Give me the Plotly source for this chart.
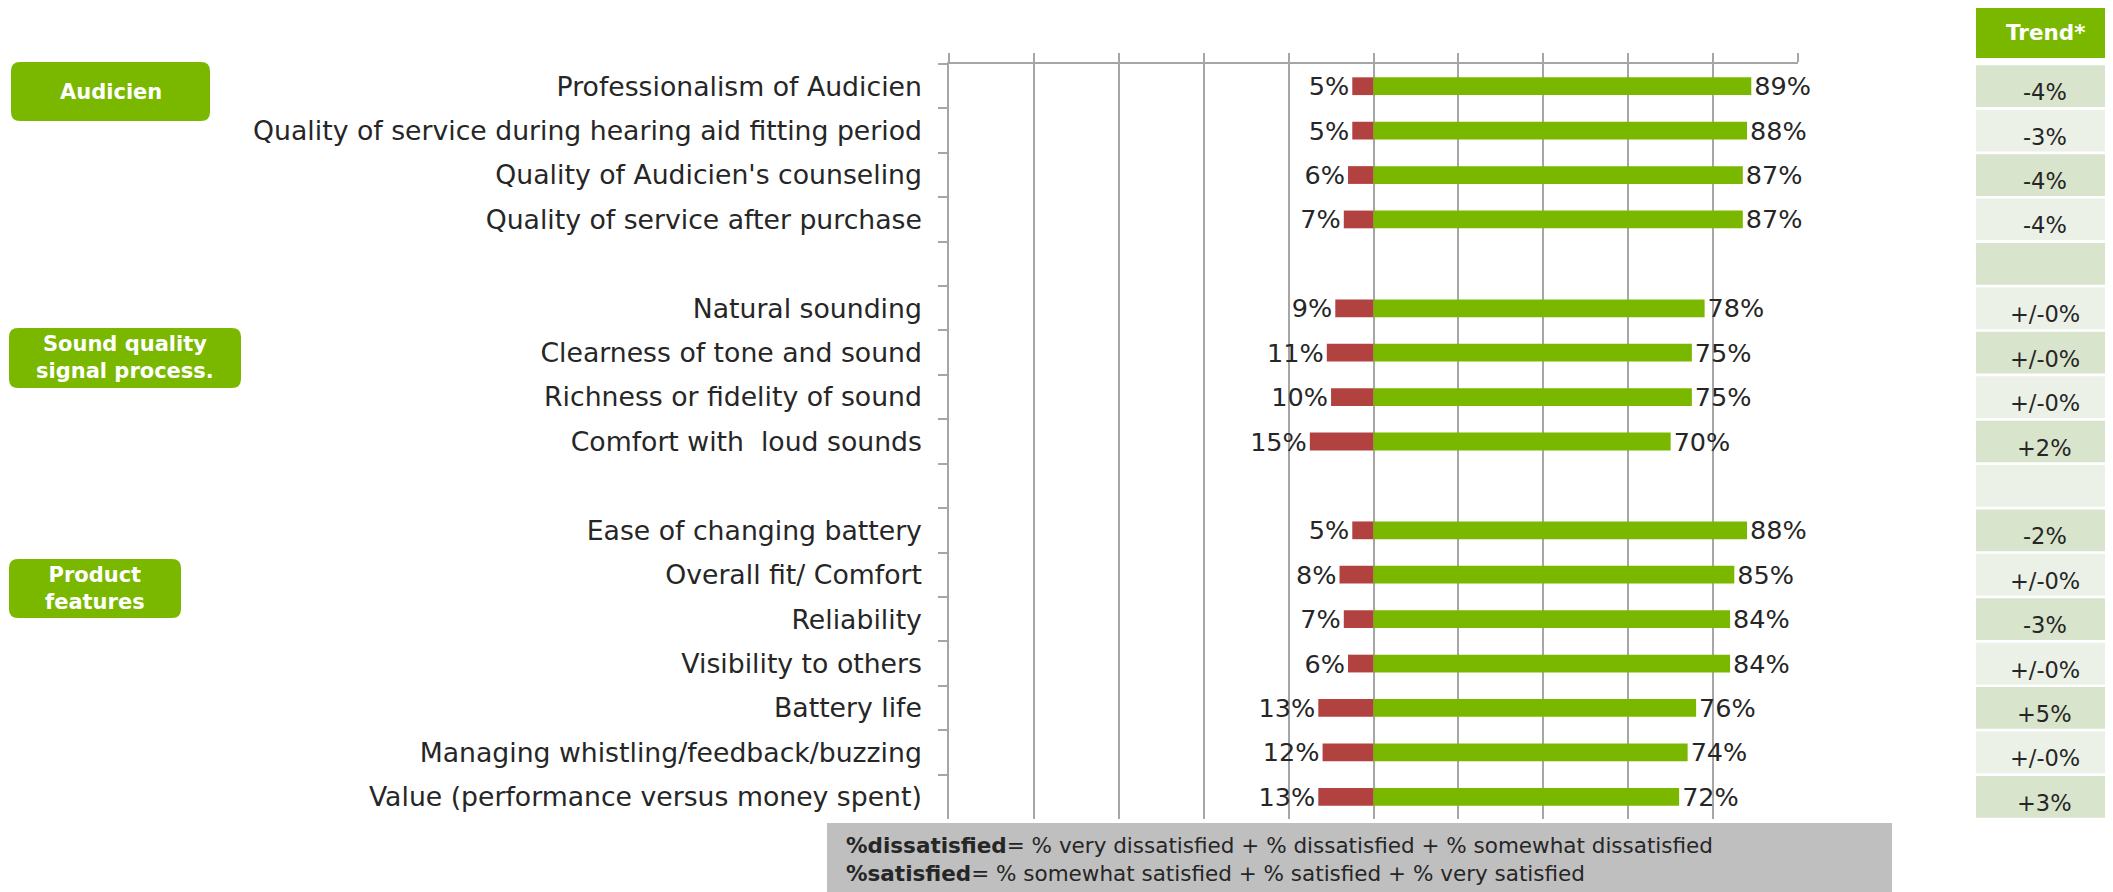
import plotly.graph_objects as go

# page body has an 8px margin, so the figure is shrunk by that and pixel positions shifted
OFF = 8
W, H = 2113 - OFF, 892 - OFF

categories = ["Professionalism of Audicien",
              "Quality of service during hearing aid fitting period",
              "Quality of Audicien's counseling",
              "Quality of service after purchase",
              " ",
              "Natural sounding",
              "Clearness of tone and sound",
              "Richness or fidelity of sound",
              "Comfort with  loud sounds",
              "  ",
              "Ease of changing battery",
              "Overall fit/ Comfort",
              "Reliability",
              "Visibility to others",
              "Battery life",
              "Managing whistling/feedback/buzzing",
              "Value (performance versus money spent)"]
dissatisfied = [5, 5, 6, 7, None, 9, 11, 10, 15, None, 5, 8, 7, 6, 13, 12, 13]
satisfied = [89, 88, 87, 87, None, 78, 75, 75, 70, None, 88, 85, 84, 84, 76, 74, 72]
trend = ["-4%", "-3%", "-4%", "-4%", "", "+/-0%", "+/-0%", "+/-0%", "+2%", "",
         "-2%", "+/-0%", "-3%", "+/-0%", "+5%", "+/-0%", "+3%"]
group_names = ["Audicien", "Sound quality<br>signal process.", "Product<br>features"]
trend_title = "Trend*"
footnote = ("<b>%dissatisfied</b>= % very dissatisfied + % dissatisfied + % somewhat dissatisfied<br>"
            "<b>%satisfied</b>= % somewhat satisfied + % satisfied + % very satisfied")

FONT = "Verdana, DejaVu Sans, sans-serif"
GREEN = "#7AB800"
RED = "#B24240"
GRID = "#A6A6A6"
TXT = "#262626"


def px(x):
    return (x - OFF) / W


def py(y):
    return 1 - (y - OFF) / H


def rounded_box(x0, y0, x1, y1, r):
    # rounded rectangle path in paper coords, input in pixels
    pts = [
        f"M {px(x0 + r)} {py(y0)}",
        f"L {px(x1 - r)} {py(y0)}",
        f"Q {px(x1)} {py(y0)} {px(x1)} {py(y0 + r)}",
        f"L {px(x1)} {py(y1 - r)}",
        f"Q {px(x1)} {py(y1)} {px(x1 - r)} {py(y1)}",
        f"L {px(x0 + r)} {py(y1)}",
        f"Q {px(x0)} {py(y1)} {px(x0)} {py(y1 - r)}",
        f"L {px(x0)} {py(y0 + r)}",
        f"Q {px(x0)} {py(y0)} {px(x0 + r)} {py(y0)}",
        "Z",
    ]
    return " ".join(pts)


fig = go.Figure()

fig.add_bar(
    y=categories, x=[-d if d is not None else None for d in dissatisfied],
    orientation="h", marker_color=RED, marker_line_width=0,
    text=[f"{d}%" if d is not None else "" for d in dissatisfied],
    textposition="outside", constraintext="none", cliponaxis=False,
    textfont=dict(size=25.5, color=TXT, family=FONT), showlegend=False,
)
fig.add_bar(
    y=categories, x=satisfied,
    orientation="h", marker_color=GREEN, marker_line_width=0,
    text=[f"{s}%" if s is not None else "" for s in satisfied],
    textposition="outside", constraintext="none", cliponaxis=False,
    textfont=dict(size=25.5, color=TXT, family=FONT), showlegend=False,
)

# trend column as cells on a second x axis
cell_colors = ["#D8E4CC" if i % 2 == 0 else "#EBF1E6" for i in range(len(categories))]
fig.add_bar(
    y=categories, x=[1] * len(categories), xaxis="x2", yaxis="y",
    orientation="h", width=0.94, marker_color=cell_colors, marker_line_width=0,
    hoverinfo="skip", showlegend=False,
)

shapes = []
annotations = []

# trend values, sitting a little low in their cells like the original
for cat, t in zip(categories, trend):
    if t:
        annotations.append(dict(xref="x2", yref="y", x=0.5, y=cat, yshift=-6, text=t,
                                showarrow=False, xanchor="center", yanchor="middle",
                                font=dict(size=22.5, color=TXT, family=FONT)))

# group boxes on the left
boxes = [(11, 62, 210, 121), (9, 328, 241, 388), (9, 559, 181, 618)]
for name, (x0, y0, x1, y1) in zip(group_names, boxes):
    shapes.append(dict(type="path", xref="paper", yref="paper", path=rounded_box(x0, y0, x1, y1, 9),
                       fillcolor=GREEN, line_width=0, layer="below"))
    annotations.append(dict(xref="paper", yref="paper", x=px((x0 + x1) / 2), y=py((y0 + y1) / 2),
                            xanchor="center", yanchor="middle",
                            text=f"<b>{name}</b>", showarrow=False, align="center",
                            font=dict(size=21, color="white", family=FONT)))

# trend header
shapes.append(dict(type="rect", xref="paper", yref="paper", x0=px(1976), x1=1, y0=py(58), y1=py(6),
                   fillcolor=GREEN, line_width=0))
annotations.append(dict(xref="paper", yref="paper", x=px(2045), y=py(32), xanchor="center", yanchor="middle",
                        text=f"<b>{trend_title}</b>",
                        showarrow=False, font=dict(size=21.5, color="white", family=FONT)))

# footnote box
shapes.append(dict(type="rect", xref="paper", yref="paper", x0=px(827), x1=px(1892), y0=0, y1=py(823),
                   fillcolor="#BFBFBF", line_width=0))
annotations.append(dict(xref="paper", yref="paper", x=px(844), y=py(859), xanchor="left", yanchor="middle",
                        text=footnote, showarrow=False, align="left",
                        font=dict(size=21.5, color=TXT, family=FONT)))

fig.update_layout(
    width=W, height=H, autosize=False,
    margin=dict(l=0, r=0, t=0, b=0),
    paper_bgcolor="white", plot_bgcolor="white",
    barmode="overlay", bargap=0.6,
    font=dict(family=FONT, color=TXT),
    shapes=shapes, annotations=annotations,
    xaxis=dict(domain=[px(949), px(1798)], range=[-100, 100], side="top",
               tickvals=list(range(-100, 101, 20)), showticklabels=False,
               ticks="outside", ticklen=9, tickcolor=GRID, tickwidth=1.5,
               showgrid=True, gridcolor=GRID, gridwidth=1.5,
               showline=True, linecolor=GRID, linewidth=1.5,
               zeroline=False, fixedrange=True),
    xaxis2=dict(domain=[px(1976), 1], range=[0, 1], anchor="y", visible=False),
    yaxis=dict(domain=[py(819), py(64)], categoryorder="array", categoryarray=categories,
               autorange="reversed", tickson="boundaries", ticks="outside", ticklen=9,
               tickcolor=GRID, tickwidth=1.5, ticklabelstandoff=20,
               showline=True, linecolor=GRID, linewidth=1.5, showgrid=False,
               tickfont=dict(size=26.7, color=TXT, family=FONT)),
)

fig.write_html("out.html")
